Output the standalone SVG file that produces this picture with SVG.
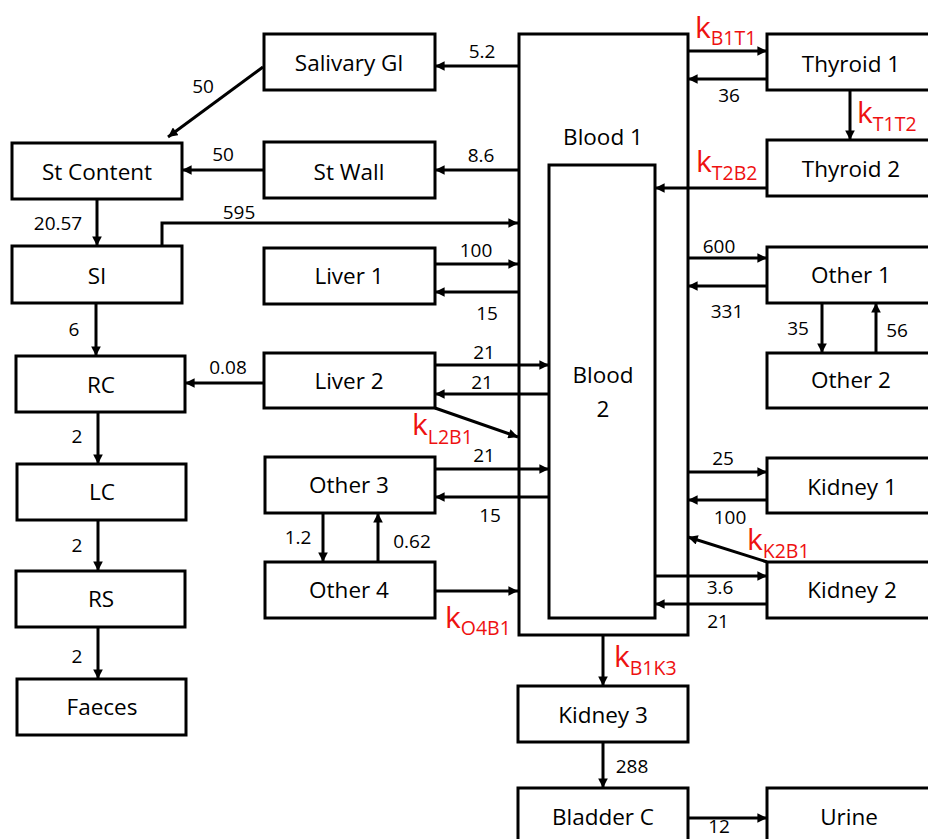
<svg xmlns="http://www.w3.org/2000/svg" width="928" height="839" viewBox="0 0 928 839">
<style>
.box{fill:#fff;stroke:#000;stroke-width:3;stroke-linejoin:miter}
.lbl{font-family:"Open Sans","Liberation Sans",sans-serif;font-size:22.5px;fill:#000;text-anchor:middle}
.num{font-family:"Open Sans","Liberation Sans",sans-serif;font-size:19px;fill:#000;text-anchor:middle}
.k{font-family:"Open Sans","Liberation Sans",sans-serif;font-size:30px;fill:#ee1111}
.k tspan{font-size:19.5px}
.c{fill:none;stroke:#000;stroke-width:3;marker-end:url(#ah)}
</style>
<defs>
<marker id="ah" viewBox="0 0 10 10" refX="10" refY="5" markerWidth="3.4" markerHeight="3.2" orient="auto" markerUnits="strokeWidth">
<path d="M0,0 L10,5 L0,10 z" fill="#000"/>
</marker>
</defs>
<rect width="928" height="839" fill="#fff"/>

<g id="blood1"><rect class="box" x="519" y="34" width="169" height="601"/><text class="lbl" x="603" y="145">Blood 1</text></g>
<g id="blood2"><rect class="box" x="549" y="165" width="106" height="453"/><text class="lbl" x="603" y="383">Blood</text><text class="lbl" x="603" y="417">2</text></g>

<g id="salivary"><rect class="box" x="264" y="34" width="171" height="56"/><text class="lbl" x="349" y="71">Salivary Gl</text></g>
<g id="stcontent"><rect class="box" x="12" y="143" width="170" height="56"/><text class="lbl" x="97" y="180">St Content</text></g>
<g id="stwall"><rect class="box" x="264" y="142" width="171" height="56"/><text class="lbl" x="349" y="180">St Wall</text></g>
<g id="si"><rect class="box" x="12" y="246" width="170" height="57"/><text class="lbl" x="97" y="284">SI</text></g>
<g id="liver1"><rect class="box" x="264" y="248" width="171" height="56"/><text class="lbl" x="349" y="284">Liver 1</text></g>
<g id="rc"><rect class="box" x="16" y="356" width="169" height="56"/><text class="lbl" x="101" y="393">RC</text></g>
<g id="lc"><rect class="box" x="17" y="464" width="169" height="56"/><text class="lbl" x="102" y="500">LC</text></g>
<g id="rs"><rect class="box" x="16" y="571" width="169" height="56"/><text class="lbl" x="101" y="607">RS</text></g>
<g id="faeces"><rect class="box" x="17" y="679" width="169" height="56"/><text class="lbl" x="102" y="715">Faeces</text></g>
<g id="liver2"><rect class="box" x="264" y="353" width="171" height="55"/><text class="lbl" x="349" y="389">Liver 2</text></g>
<g id="other3"><rect class="box" x="265" y="457" width="170" height="56"/><text class="lbl" x="349" y="493">Other 3</text></g>
<g id="other4"><rect class="box" x="265" y="562" width="170" height="56"/><text class="lbl" x="349" y="598">Other 4</text></g>

<g id="thyroid1"><rect class="box" x="767" y="34" width="170" height="56"/><text class="lbl" x="851" y="72">Thyroid 1</text></g>
<g id="thyroid2"><rect class="box" x="767" y="140" width="170" height="56"/><text class="lbl" x="851" y="177">Thyroid 2</text></g>
<g id="other1"><rect class="box" x="767" y="247" width="170" height="56"/><text class="lbl" x="851" y="283">Other 1</text></g>
<g id="other2"><rect class="box" x="767" y="353" width="170" height="55"/><text class="lbl" x="851" y="388">Other 2</text></g>
<g id="kidney1"><rect class="box" x="767" y="458" width="170" height="55"/><text class="lbl" x="852" y="495">Kidney 1</text></g>
<g id="kidney2"><rect class="box" x="767" y="562" width="170" height="56"/><text class="lbl" x="852" y="598">Kidney 2</text></g>
<g id="kidney3"><rect class="box" x="518" y="686" width="170" height="56"/><text class="lbl" x="603" y="723">Kidney 3</text></g>
<g id="bladder"><rect class="box" x="518" y="788" width="170" height="70"/><text class="lbl" x="603" y="825">Bladder C</text></g>
<g id="urine"><rect class="box" x="767" y="788" width="170" height="70"/><text class="lbl" x="849" y="825">Urine</text></g>

<g id="connectors">
<line class="c" x1="518" y1="66" x2="435" y2="66"/>
<line class="c" x1="263" y1="67" x2="168" y2="137"/>
<line class="c" x1="518" y1="170" x2="435" y2="170"/>
<line class="c" x1="264" y1="170" x2="182" y2="170"/>
<line class="c" x1="97" y1="199" x2="97" y2="246"/>
<polyline class="c" points="162,246 162,223 518,223"/>
<line class="c" x1="435" y1="264" x2="518" y2="264"/>
<line class="c" x1="518" y1="292" x2="435" y2="292"/>
<line class="c" x1="96" y1="303" x2="96" y2="356"/>
<line class="c" x1="264" y1="383" x2="185" y2="383"/>
<line class="c" x1="435" y1="365" x2="549" y2="365"/>
<line class="c" x1="549" y1="394" x2="435" y2="394"/>
<line class="c" x1="435" y1="408" x2="518" y2="437"/>
<line class="c" x1="435" y1="469" x2="549" y2="469"/>
<line class="c" x1="549" y1="497" x2="435" y2="497"/>
<line class="c" x1="323" y1="513" x2="323" y2="562"/>
<line class="c" x1="378" y1="562" x2="378" y2="513"/>
<line class="c" x1="435" y1="591" x2="518" y2="591"/>
<line class="c" x1="98" y1="412" x2="98" y2="464"/>
<line class="c" x1="98" y1="520" x2="98" y2="571"/>
<line class="c" x1="98" y1="627" x2="98" y2="679"/>
<line class="c" x1="688" y1="51" x2="767" y2="51"/>
<line class="c" x1="767" y1="79" x2="688" y2="79"/>
<line class="c" x1="850" y1="90" x2="850" y2="140"/>
<line class="c" x1="767" y1="188" x2="655" y2="188"/>
<line class="c" x1="688" y1="258" x2="767" y2="258"/>
<line class="c" x1="767" y1="286" x2="688" y2="286"/>
<line class="c" x1="822" y1="303" x2="822" y2="353"/>
<line class="c" x1="876" y1="353" x2="876" y2="303"/>
<line class="c" x1="688" y1="472" x2="767" y2="472"/>
<line class="c" x1="767" y1="500" x2="688" y2="500"/>
<line class="c" x1="767" y1="562" x2="688" y2="537"/>
<line class="c" x1="655" y1="576" x2="767" y2="576"/>
<line class="c" x1="767" y1="604" x2="655" y2="604"/>
<line class="c" x1="603" y1="635" x2="603" y2="686"/>
<line class="c" x1="603" y1="742" x2="603" y2="788"/>
<line class="c" x1="688" y1="818" x2="767" y2="818"/>
</g>

<g id="labels">
<text class="num" x="482" y="58">5.2</text>
<text class="num" x="203" y="93">50</text>
<text class="num" x="481" y="162">8.6</text>
<text class="num" x="223" y="161">50</text>
<text class="num" x="58" y="230">20.57</text>
<text class="num" x="239" y="219">595</text>
<text class="num" x="476" y="257">100</text>
<text class="num" x="487" y="320">15</text>
<text class="num" x="74" y="336">6</text>
<text class="num" x="228" y="374">0.08</text>
<text class="num" x="484" y="359">21</text>
<text class="num" x="482" y="389">21</text>
<text class="num" x="484" y="462">21</text>
<text class="num" x="490" y="522">15</text>
<text class="num" x="298" y="544">1.2</text>
<text class="num" x="412" y="548">0.62</text>
<text class="num" x="77" y="443">2</text>
<text class="num" x="77" y="552">2</text>
<text class="num" x="77" y="663">2</text>
<text class="num" x="729" y="102">36</text>
<text class="num" x="719" y="253">600</text>
<text class="num" x="727" y="318">331</text>
<text class="num" x="798" y="335">35</text>
<text class="num" x="897" y="337">56</text>
<text class="num" x="723" y="465">25</text>
<text class="num" x="730" y="524">100</text>
<text class="num" x="720" y="594">3.6</text>
<text class="num" x="718" y="628">21</text>
<text class="num" x="632" y="773">288</text>
<text class="num" x="719" y="833">12</text>
<text class="k" x="695" y="38">k<tspan dy="7">B1T1</tspan></text>
<text class="k" x="857" y="123">k<tspan dy="8">T1T2</tspan></text>
<text class="k" x="696" y="172">k<tspan dy="8">T2B2</tspan></text>
<text class="k" x="412" y="435">k<tspan dy="9">L2B1</tspan></text>
<text class="k" x="445" y="628">k<tspan dy="7">O4B1</tspan></text>
<text class="k" x="747" y="550">k<tspan dy="8">K2B1</tspan></text>
<text class="k" x="614" y="667">k<tspan dy="8">B1K3</tspan></text>
</g>
</svg>
